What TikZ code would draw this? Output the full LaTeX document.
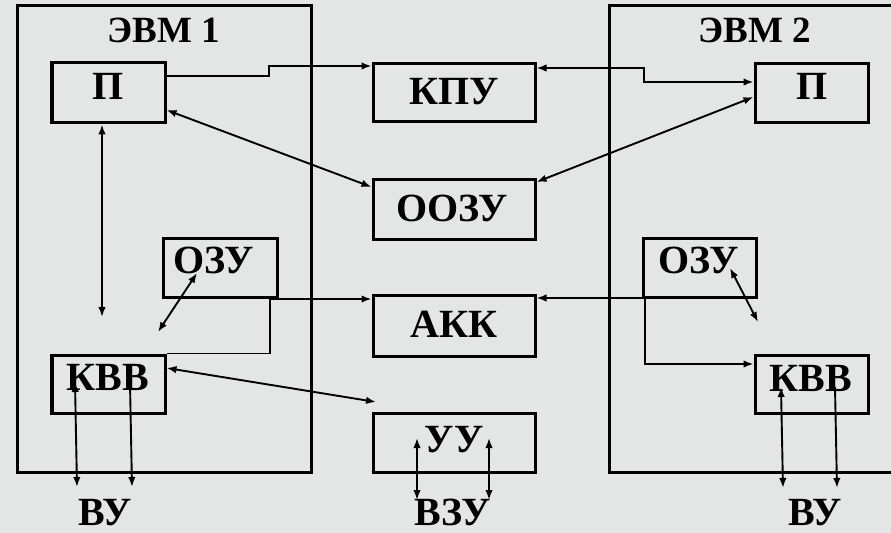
\documentclass[tikz,border=0pt]{standalone}
\usepackage{fontspec}
\setmainfont{Liberation Serif}
\usetikzlibrary{arrows.meta}
\definecolor{bg}{RGB}{227,230,229}
\begin{document}
\begin{tikzpicture}[x=1bp,y=-1bp,
  frame/.style={draw, line width=3bp, rectangle, inner sep=0pt},
  unit/.style={draw, line width=3bp, rectangle, inner sep=0pt},
  lbl/.style={font=\fontsize{40bp}{44bp}\selectfont\bfseries, anchor=base, inner sep=0pt},
  ttl/.style={font=\fontsize{37bp}{40bp}\selectfont\bfseries, anchor=base, inner sep=0pt},
  link/.style={line width=1.9bp},
  tip/.style={-{Latex[length=10bp,width=7.5bp]}},
  tips/.style={{Latex[length=10bp,width=7.5bp]}-{Latex[length=10bp,width=7.5bp]}},
]
\fill[bg] (0,0) rectangle (891,533);
\useasboundingbox (0,0) rectangle (891,533);
\clip (0,0) rectangle (891,533);

% computer frames
\node[frame, minimum width=293bp, minimum height=466bp] (evm1) at (164.5,239) {};
\node[frame, minimum width=293bp, minimum height=466bp] (evm2) at (755.5,239) {};
\node[ttl] (t1) at (164,43) {ЭВМ 1};
\node[ttl] (t2) at (755,43) {ЭВМ 2};

% units
\node[unit, minimum width=113bp, minimum height=60bp] (p1)   at (108.5,93) {};
\node[unit, minimum width=162bp, minimum height=58bp] (kpu)  at (454,93) {};
\node[unit, minimum width=162bp, minimum height=60bp] (oozu) at (454,210) {};
\node[unit, minimum width=162bp, minimum height=60bp] (akk)  at (454,326) {};
\node[unit, minimum width=162bp, minimum height=59bp] (uu)   at (454,442.5) {};
\node[unit, minimum width=114bp, minimum height=58bp] (ozu1) at (220,268) {};
\node[unit, minimum width=113bp, minimum height=58bp] (kvv1) at (108.5,384) {};
\node[unit, minimum width=113bp, minimum height=59bp] (p2)   at (811.5,93.5) {};
\node[unit, minimum width=113bp, minimum height=58bp] (ozu2) at (699.5,268) {};
\node[unit, minimum width=113bp, minimum height=58bp] (kvv2) at (811.5,384) {};

% unit captions
\node[lbl] (lp1)   at (108,100) {П};
\node[lbl] (lkpu)  at (454,105) {КПУ};
\node[lbl] (loozu) at (452,222) {ООЗУ};
\node[lbl] (lakk)  at (454,338) {АКК};
\node[lbl] (luu)   at (454,452) {УУ};
\node[lbl] (lozu1) at (214,274) {ОЗУ};
\node[lbl] (lkvv1) at (108,390) {КВВ};
\node[lbl] (lp2)   at (812,100) {П};
\node[lbl] (lozu2) at (699,274) {ОЗУ};
\node[lbl] (lkvv2) at (811,391) {КВВ};
\node[lbl] (vu1)   at (105,525) {ВУ};
\node[lbl] (vzu)   at (453,525) {ВЗУ};
\node[lbl] (vu2)   at (815,525) {ВУ};

% free ends of connectors
\coordinate (p1down) at (102,317);
\coordinate (o1a) at (197,273);
\coordinate (o1b) at (158,332);
\coordinate (o2a) at (730,268);
\coordinate (o2b) at (758,322);
\coordinate (kvvuu) at (376,402);
\coordinate (k1a) at (75,382);  \coordinate (k1aa) at (77,487);
\coordinate (k1b) at (130,383); \coordinate (k1bb) at (132,487);
\coordinate (k2a) at (781,387); \coordinate (k2aa) at (783,488);
\coordinate (k2b) at (835,387); \coordinate (k2bb) at (837,488);
\coordinate (u1) at (417,438);  \coordinate (u1b) at (417,500);
\coordinate (u2) at (489,438);  \coordinate (u2b) at (489,500);

% links between units
\draw[link, tip]  (p1.east |- 0,76) -| (269,66) -- (kpu.west |- 0,66);
\draw[link, tips] (kpu.east |- 0,68) -| (644,82) -- (p2.west |- 0,82);
\draw[link, tips] (p1.east |- 0,110) -- (oozu.west |- 0,187);
\draw[link, tips] (oozu.east |- 0,182) -- (p2.west |- 0,97);
\draw[link, tips] (102,0 |- p1.south) -- (p1down);
\draw[link, tips] (o1a) -- (o1b);
\draw[link, tip]  (kvv1.north east) -| (270,299) -- (akk.west |- 0,299);
\draw[link, tips] (akk.east |- 0,298) -| (645,364) -- (kvv2.west |- 0,364);
\draw[link, tips] (o2a) -- (o2b);
\draw[link, tips] (kvv1.east |- 0,368) -- (kvvuu);
\draw[link, tips] (k1a) -- (k1aa);
\draw[link, tip]  (k1b) -- (k1bb);
\draw[link, tips] (k2a) -- (k2aa);
\draw[link, tip]  (k2b) -- (k2bb);
\draw[link, tips] (u1) -- (u1b);
\draw[link, tips] (u2) -- (u2b);
\end{tikzpicture}
\end{document}
